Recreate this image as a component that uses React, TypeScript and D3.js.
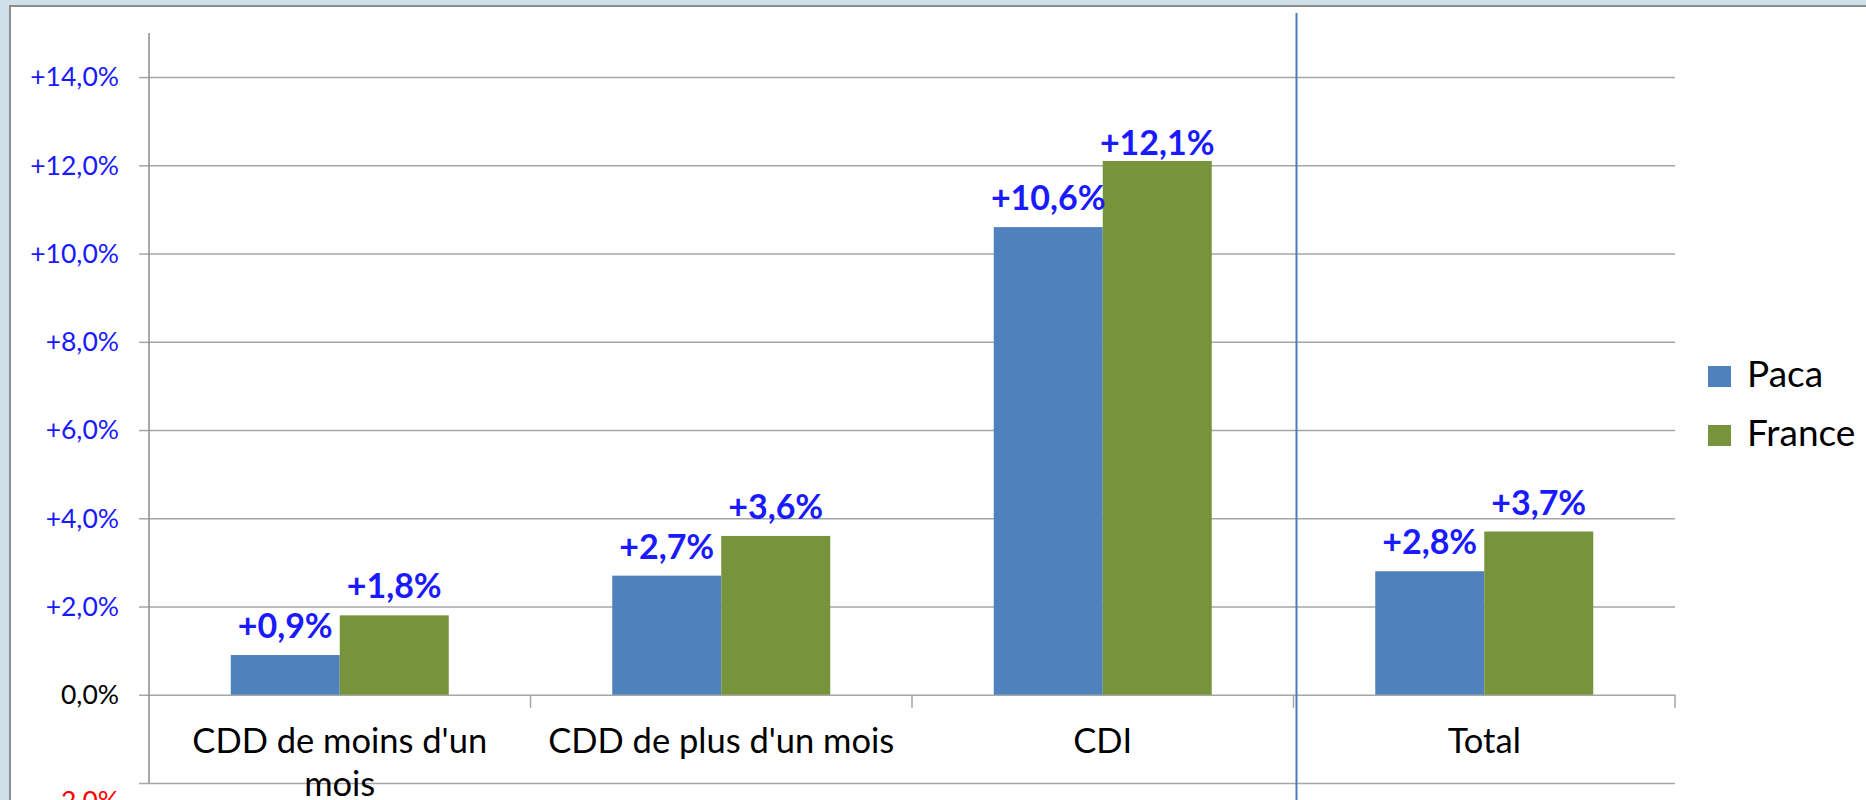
import { useEffect, useRef } from 'react'
import * as d3 from 'd3'

const categories = ["CDD de moins d'un\nmois", "CDD de plus d'un mois", 'CDI', 'Total']
const seriesNames = ['Paca', 'France']
const pacaValues = [0.9, 2.7, 10.6, 2.8]
const franceValues = [1.8, 3.6, 12.1, 3.7]
const yTicks = [-2, 0, 2, 4, 6, 8, 10, 12, 14]
const colors = ['#4f81bd', '#77933c']

const width = 1866
const height = 800
const FONT = 'Lato, "Liberation Sans", sans-serif'

const fmt = (d: number) =>
  (d > 0 ? '+' : '') + d.toFixed(1).replace('.', ',') + '%'

function App() {
  const ref = useRef<SVGSVGElement>(null)

  useEffect(() => {
    drawChart()
  }, [])

  const drawChart = () => {
    const svg = d3.select(ref.current)
    svg.selectAll('*').remove()

    // slide background + white panel
    svg.append('rect').attr('width', width).attr('height', height).attr('fill', '#d0e0e8')
    svg
      .append('rect')
      .attr('x', 10)
      .attr('y', 6)
      .attr('width', width)
      .attr('height', height)
      .attr('fill', '#ffffff')
      .attr('stroke', '#8c8c8c')
      .attr('stroke-width', 2)

    const x = d3.scaleBand().domain(categories).range([149, 1675])
    const y = d3.scaleLinear().domain([-2, 15]).range([783, 33])
    const xInner = d3
      .scaleBand()
      .domain(seriesNames)
      .range([0, x.bandwidth()])
      .paddingOuter(0.75)
      .paddingInner(0)

    // gridlines
    svg
      .append('g')
      .attr('transform', 'translate(149,0)')
      .call(
        d3
          .axisLeft(y)
          .tickValues(yTicks)
          .tickSize(10)
          .tickFormat('' as any)
      )
      .call((g) => g.select('.domain').remove())
      .call((g) => g.selectAll('line').attr('stroke', '#a6a6a6').attr('stroke-width', 1.5))
    svg
      .append('g')
      .attr('transform', 'translate(149,0)')
      .call(
        d3
          .axisRight(y)
          .tickValues(yTicks)
          .tickSize(1675 - 149)
          .tickFormat('' as any)
      )
      .call((g) => g.select('.domain').remove())
      .call((g) => g.selectAll('line').attr('stroke', '#a6a6a6').attr('stroke-width', 1.5))

    // y axis line
    svg
      .append('line')
      .attr('x1', 149)
      .attr('x2', 149)
      .attr('y1', y(15))
      .attr('y2', y(-2))
      .attr('stroke', '#8c8c8c')
      .attr('stroke-width', 1.5)

    // y tick labels
    svg
      .append('g')
      .selectAll('text')
      .data(yTicks)
      .join('text')
      .attr('x', 119)
      .attr('y', (d) => y(d) + (d < 0 ? 18 : 0))
      .attr('dy', '0.35em')
      .attr('text-anchor', 'end')
      .attr('font-family', FONT)
      .attr('font-size', 26.5)
      .attr('fill', (d) => (d > 0 ? '#1a1aff' : d < 0 ? '#ff0000' : '#000000'))
      .text((d) => fmt(d))

    // category ticks on the zero line
    const bounds = categories.map((c) => (x(c) as number) + x.bandwidth())
    svg
      .append('g')
      .selectAll('line')
      .data(bounds)
      .join('line')
      .attr('x1', (d) => d)
      .attr('x2', (d) => d)
      .attr('y1', y(0))
      .attr('y2', y(0) + 13)
      .attr('stroke', '#a6a6a6')
      .attr('stroke-width', 1.5)

    // bars
    const rows = categories.map((c, i) => ({ c, vals: [pacaValues[i], franceValues[i]] }))
    const groups = svg
      .append('g')
      .selectAll('g')
      .data(rows)
      .join('g')
      .attr('transform', (d) => `translate(${x(d.c)},0)`)
    groups
      .selectAll('rect')
      .data((d) => d.vals.map((v, j) => ({ v, s: seriesNames[j], j })))
      .join('rect')
      .attr('x', (d) => xInner(d.s) as number)
      .attr('width', xInner.bandwidth())
      .attr('y', (d) => y(d.v))
      .attr('height', (d) => y(0) - y(d.v))
      .attr('fill', (d) => colors[d.j])

    // value labels
    groups
      .selectAll('text')
      .data((d) => d.vals.map((v, j) => ({ v, s: seriesNames[j] })))
      .join('text')
      .attr('x', (d) => (xInner(d.s) as number) + xInner.bandwidth() / 2)
      .attr('y', (d) => Math.max(y(d.v) - 17, y(12) - 10))
      .attr('text-anchor', 'middle')
      .attr('font-family', FONT)
      .attr('font-weight', 'bold')
      .attr('font-size', 34)
      .attr('fill', '#1a1aff')
      .text((d) => fmt(d.v))

    // category labels
    svg
      .append('g')
      .selectAll('text')
      .data(categories)
      .join('text')
      .attr('x', (d) => (x(d) as number) + x.bandwidth() / 2)
      .attr('y', 753)
      .attr('text-anchor', 'middle')
      .attr('font-family', FONT)
      .attr('font-size', 34.5)
      .attr('fill', '#000000')
      .each(function (d) {
        const t = d3.select(this)
        d.split('\n').forEach((line, i) => {
          t.append('tspan')
            .attr('x', (x(d) as number) + x.bandwidth() / 2)
            .attr('dy', i === 0 ? 0 : 43)
            .text(line)
        })
      })

    // separator before Total
    svg
      .append('line')
      .attr('x1', (x('Total') as number) + 3)
      .attr('x2', (x('Total') as number) + 3)
      .attr('y1', 13)
      .attr('y2', height)
      .attr('stroke', '#4a7ebb')
      .attr('stroke-width', 2)

    // legend
    const legend = svg
      .append('g')
      .selectAll('g')
      .data(seriesNames)
      .join('g')
      .attr('transform', (d, i) => `translate(1708,${387 + i * 59})`)
    legend
      .append('rect')
      .attr('y', -21)
      .attr('width', 23)
      .attr('height', 21)
      .attr('fill', (d, i) => colors[i])
    legend
      .append('text')
      .attr('x', 39)
      .attr('font-family', FONT)
      .attr('font-size', 37)
      .attr('fill', '#000000')
      .text((d) => d)
  }

  return (
    <div style={{ position: 'fixed', left: 0, top: 0 }}>
      <svg ref={ref} width={width} height={height} style={{ display: 'block' }} />
    </div>
  )
}

export default App
